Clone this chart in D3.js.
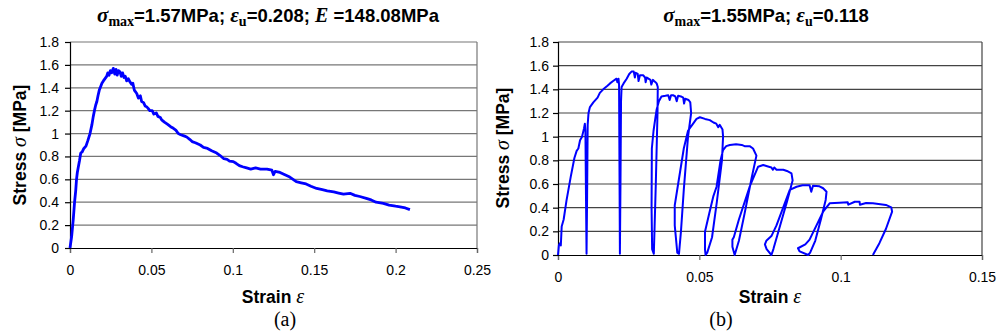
<!DOCTYPE html>
<html>
<head>
<meta charset="utf-8">
<script src="https://cdn.jsdelivr.net/npm/d3@7"></script>
<style>
  body { margin: 0; background: #fff; }
  svg { display: block; }
  .tick text { font-family: "Liberation Sans", Arial, sans-serif; font-size: 14px; fill: #000; }
  .lbl { font-family: "Liberation Sans", Arial, sans-serif; font-weight: bold; }
  .grk { font-family: "Liberation Serif", "Times New Roman", serif; font-style: italic; }
  .sub { font-family: "Liberation Serif", "Times New Roman", serif; font-weight: bold; }
</style>
</head>
<body>
<div id="chart"></div>
<script>
// panel (a): monotonic test
var strainA = [0,0.001,0.002,0.0028,0.0035,0.004,0.0045,0.005,0.0058,0.0066,0.0075,0.0085,0.0098,0.011,0.0123,0.0135,0.0143,0.015,0.0158,0.0165,0.0172,0.018,0.0188,0.0196,0.0205,0.0215,0.0225,0.0232,0.024,0.0248,0.0256,0.0266,0.0275,0.0283,0.029,0.0298,0.0307,0.0315,0.0323,0.0332,0.034,0.0348,0.0358,0.0369,0.0378,0.0386,0.0395,0.041,0.042,0.0432,0.044,0.0452,0.0462,0.047,0.048,0.049,0.0505,0.0515,0.053,0.054,0.0555,0.0563,0.058,0.06,0.0618,0.0635,0.065,0.0665,0.068,0.07,0.0717,0.0735,0.075,0.077,0.08,0.082,0.0845,0.087,0.0901,0.092,0.0945,0.0965,0.098,0.1003,0.102,0.104,0.106,0.1085,0.111,0.114,0.117,0.121,0.124,0.125,0.126,0.129,0.132,0.135,0.139,0.142,0.145,0.148,0.1515,0.155,0.158,0.162,0.165,0.168,0.172,0.175,0.178,0.182,0.185,0.188,0.1925,0.196,0.2,0.2027,0.206,0.2088];
var stressA = [0,0.1,0.25,0.4,0.5,0.6,0.66,0.7,0.76,0.83,0.84,0.87,0.89,0.94,1.0,1.08,1.15,1.2,1.25,1.28,1.33,1.38,1.41,1.44,1.46,1.48,1.5,1.53,1.51,1.55,1.53,1.57,1.52,1.56,1.51,1.55,1.54,1.5,1.53,1.49,1.5,1.46,1.48,1.45,1.43,1.44,1.38,1.35,1.31,1.33,1.28,1.27,1.24,1.235,1.22,1.2,1.2,1.17,1.18,1.15,1.14,1.12,1.1,1.08,1.06,1.046,1.03,1.0,0.99,0.98,0.97,0.95,0.93,0.92,0.9,0.88,0.87,0.85,0.83,0.81,0.78,0.775,0.76,0.755,0.74,0.72,0.71,0.70,0.69,0.7,0.69,0.69,0.68,0.64,0.67,0.66,0.64,0.62,0.58,0.57,0.56,0.54,0.52,0.51,0.5,0.49,0.48,0.47,0.478,0.46,0.45,0.434,0.42,0.4,0.39,0.375,0.365,0.36,0.35,0.335];

// panel (b): cyclic test, one continuous path
var strainB = [0,0.0003,0.0007,0.001,0.0013,0.002,0.003,0.0045,0.0058,0.0066,0.0072,0.0078,0.0085,0.0092,0.0095,0.0097,0.0099,0.0101,0.0103,0.0105,0.0108,0.0113,0.0125,0.014,0.0148,0.016,0.0175,0.0184,0.0195,0.0207,0.021,0.0214,0.0216,0.0218,0.0219,0.0221,0.0223,0.0225,0.0232,0.0243,0.0252,0.026,0.0268,0.0272,0.0275,0.0282,0.0285,0.029,0.0301,0.0308,0.031,0.0314,0.032,0.0327,0.033,0.0336,0.034,0.0345,0.0349,0.0353,0.0352,0.0346,0.0339,0.0333,0.0331,0.0332,0.0338,0.0344,0.0349,0.0357,0.0366,0.038,0.039,0.0395,0.04,0.0407,0.0415,0.042,0.0425,0.0435,0.0443,0.0446,0.045,0.0462,0.0468,0.0471,0.046,0.0445,0.0435,0.0428,0.0422,0.0413,0.0413,0.0425,0.0445,0.046,0.0478,0.049,0.0502,0.052,0.0537,0.055,0.056,0.0567,0.0572,0.0582,0.0584,0.058,0.0562,0.0545,0.0528,0.0522,0.052,0.052,0.0535,0.055,0.0561,0.0575,0.0584,0.0595,0.0608,0.063,0.065,0.066,0.0678,0.069,0.0702,0.0685,0.066,0.064,0.0625,0.0617,0.0617,0.0622,0.064,0.0678,0.0708,0.0726,0.074,0.0755,0.076,0.0765,0.0773,0.0785,0.0797,0.081,0.0826,0.083,0.081,0.078,0.0762,0.0755,0.0738,0.0732,0.0737,0.0755,0.0773,0.082,0.0844,0.0865,0.089,0.0896,0.0902,0.0925,0.0938,0.095,0.0947,0.093,0.091,0.0892,0.0885,0.0855,0.0849,0.0875,0.089,0.0938,0.0961,0.0996,0.1025,0.1027,0.105,0.1067,0.1068,0.109,0.1114,0.116,0.1179,0.1182,0.116,0.1137,0.1114];
var stressB = [0,0.08,0.1,0.08,0.24,0.3,0.46,0.66,0.82,0.88,0.9,0.97,1.0,1.07,1.11,1.05,0.5,0.01,0.5,1.1,1.2,1.25,1.29,1.33,1.37,1.4,1.43,1.45,1.47,1.49,1.46,1.49,1.44,0.5,0.01,0.6,1.3,1.42,1.45,1.49,1.53,1.55,1.55,1.5,1.54,1.53,1.47,1.52,1.52,1.5,1.46,1.5,1.49,1.48,1.44,1.48,1.47,1.46,1.45,1.42,1.2,0.6,0.01,0.05,0.4,0.9,1.05,1.15,1.23,1.3,1.34,1.345,1.35,1.31,1.35,1.35,1.34,1.3,1.345,1.34,1.33,1.28,1.32,1.31,1.29,1.2,1.0,0.55,0.2,0.01,0.02,0.25,0.42,0.6,0.9,1.05,1.11,1.15,1.164,1.15,1.14,1.12,1.11,1.08,1.1,1.06,1.0,0.8,0.45,0.15,0.02,0.0,0.05,0.197,0.35,0.5,0.577,0.8,0.887,0.92,0.93,0.935,0.93,0.92,0.92,0.9,0.84,0.65,0.35,0.12,0.0,0.07,0.13,0.15,0.3,0.577,0.746,0.76,0.75,0.74,0.72,0.74,0.72,0.72,0.72,0.71,0.69,0.63,0.45,0.2,0.05,0.0,0.05,0.09,0.12,0.16,0.25,0.55,0.577,0.59,0.59,0.535,0.585,0.58,0.564,0.535,0.465,0.3,0.12,0.02,0.0,0.03,0.057,0.09,0.13,0.366,0.437,0.442,0.445,0.425,0.45,0.45,0.425,0.44,0.437,0.423,0.403,0.366,0.22,0.1,0.0];

var yTicks = [0,0.2,0.4,0.6,0.8,1,1.2,1.4,1.6,1.8];
var xTicksA = [0,0.05,0.1,0.15,0.2,0.25];
var xTicksB = [0,0.05,0.1,0.15];

var svg = d3.select("#chart").append("svg")
	.attr("width", 1000)
	.attr("height", 335);

svg.append("rect").attr("width", 1000).attr("height", 335).attr("fill", "#fff");

function drawPanel(cfg) {
	var x = d3.scaleLinear().domain(cfg.xDomain).range([cfg.left, cfg.right]);
	var y = d3.scaleLinear().domain([0, 1.8]).range([cfg.bottom, cfg.top]);
	var g = svg.append("g");

	// grid
	g.append("g").selectAll("line")
		.data(yTicks.slice(1))
		.enter().append("line")
		.attr("x1", cfg.left).attr("x2", cfg.right)
		.attr("y1", d => y(d)).attr("y2", d => y(d))
		.attr("stroke", cfg.gridColor).attr("stroke-width", 1.2);
	g.append("line")
		.attr("x1", cfg.right).attr("x2", cfg.right)
		.attr("y1", cfg.top).attr("y2", cfg.bottom)
		.attr("stroke", cfg.gridColor).attr("stroke-width", 1.2);

	var xa = g.append("g")
		.attr("transform", "translate(0," + cfg.bottom + ")")
		.call(d3.axisBottom(x).tickValues(cfg.xTicks).tickFormat(d3.format("")).tickSizeOuter(0).tickSize(5).tickPadding(12));
	var ya = g.append("g")
		.attr("transform", "translate(" + cfg.left + ",0)")
		.call(d3.axisLeft(y).tickValues(yTicks).tickFormat(d3.format("")).tickSizeOuter(0).tickSize(5).tickPadding(cfg.yPad));
	g.selectAll(".domain, .tick line").attr("stroke", "#000").attr("stroke-width", 1.2);
	xa.selectAll(".tick line").attr("stroke", "#666");

	// curve
	var pts = cfg.xs.map((v, i) => [v, cfg.ys[i]]);
	g.append("path")
		.datum(pts)
		.attr("fill", "none")
		.attr("stroke", "#0000ff")
		.attr("stroke-width", cfg.lw)
		.attr("stroke-linejoin", "round")
		.attr("d", d3.line().x(d => x(d[0])).y(d => y(d[1])));

	// title
	var t = g.append("text")
		.attr("x", cfg.titleX).attr("y", 22)
		.attr("text-anchor", "middle")
		.attr("class", "lbl").attr("font-size", 18.5);
	cfg.title.forEach(function(p) {
		var s = t.append("tspan").text(p.t);
		if (p.c) s.attr("class", p.c);
		if (p.fs) s.attr("font-size", p.fs);
		if (p.dy) s.attr("dy", p.dy);
	});

	// axis titles
	var xt = g.append("text")
		.attr("x", cfg.xLabX).attr("y", 303)
		.attr("text-anchor", "middle")
		.attr("class", "lbl").attr("font-size", 17.5);
	xt.append("tspan").text("Strain ");
	xt.append("tspan").attr("class", "grk").attr("font-weight", "normal").attr("font-size", 20).text("ε");

	var yt = g.append("text")
		.attr("transform", "translate(" + cfg.yLabX + "," + cfg.yLabY + ") rotate(-90)")
		.attr("text-anchor", "middle")
		.attr("class", "lbl").attr("font-size", 17.5);
	yt.append("tspan").text("Stress ");
	yt.append("tspan").attr("class", "grk").attr("font-weight", "normal").attr("font-size", 20).text("σ");
	yt.append("tspan").text(" [MPa]");

	g.append("text")
		.attr("x", cfg.capX).attr("y", 326)
		.attr("text-anchor", "middle")
		.attr("font-family", "'Liberation Serif', 'Times New Roman', serif")
		.attr("font-size", 20)
		.text(cfg.cap);
}

drawPanel({
	left: 70, right: 477, top: 42, bottom: 248,
	xDomain: [0, 0.25], xTicks: xTicksA, xs: strainA, ys: stressA,
	lw: 2.8, gridColor: "#777", yPad: 6,
	titleX: 268, xLabX: 273, yLabX: 26, yLabY: 145, capX: 285, cap: "(a)",
	title: [
		{t: "σ", c: "grk", fs: 21},
		{t: "max", c: "sub", fs: 14, dy: 4},
		{t: "=1.57MPa; ", dy: -4},
		{t: "ε", c: "grk", fs: 21},
		{t: "u", c: "sub", fs: 14, dy: 4},
		{t: "=0.208; ", dy: -4},
		{t: "E", c: "grk", fs: 20},
		{t: " =148.08MPa"}
	]
});

drawPanel({
	left: 558, right: 982, top: 42, bottom: 255,
	xDomain: [0, 0.15], xTicks: xTicksB, xs: strainB, ys: stressB,
	lw: 2, gridColor: "#444", yPad: 4,
	titleX: 766, xLabX: 770, yLabX: 509, yLabY: 148, capX: 721, cap: "(b)",
	title: [
		{t: "σ", c: "grk", fs: 21},
		{t: "max", c: "sub", fs: 14, dy: 4},
		{t: "=1.55MPa; ", dy: -4},
		{t: "ε", c: "grk", fs: 21},
		{t: "u", c: "sub", fs: 14, dy: 4},
		{t: "=0.118", dy: -4}
	]
});
</script>
</body>
</html>
